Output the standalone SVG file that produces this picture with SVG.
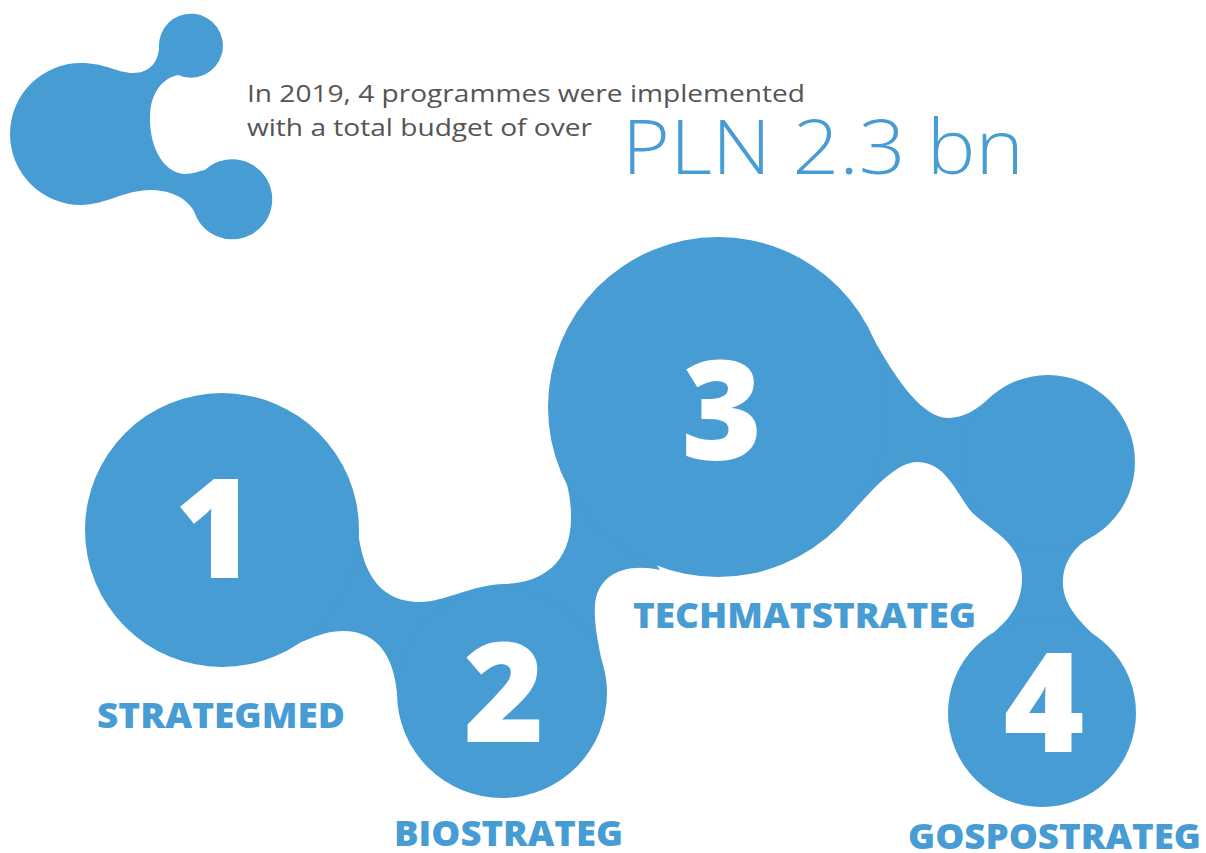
<svg xmlns="http://www.w3.org/2000/svg" width="1206" height="853" viewBox="0 0 1206 853">
<style>
.b{fill:#479CD4}
.hdr{font-family:"Open Sans","Liberation Sans",sans-serif;font-size:24px;fill:#555555}
.big{font-family:"Open Sans","Lato","Liberation Sans",sans-serif;font-weight:300;font-size:76px;fill:#479CD4}
.lbl{font-family:"Open Sans","Lato","Liberation Sans",sans-serif;font-weight:800;font-size:36px;fill:#479CD4}
.num{font-family:"Open Sans","Lato","Liberation Sans",sans-serif;font-weight:800;font-size:138px;fill:#ffffff;text-anchor:middle}
</style>
<rect width="1206" height="853" fill="#ffffff"/>
<g id="logo">
<path class="b" d="M10,134 A71,71 0 0 1 81,63 C105,63 118,73 133,73 C150,73 158,62 159,48 A32,32 0 1 1 178,75 C163,78 151,92 150,115 C149,142 160,172 185,174 C193,174 199,171 205,170 A40,40 0 1 1 194,211 C185,196 168,190 150,190 C125,190 105,205 81,205 A71,71 0 0 1 10,134 Z"/>
</g>
<g id="header">
<text class="hdr" x="247" y="102" textLength="558" lengthAdjust="spacingAndGlyphs">In 2019, 4 programmes were implemented</text>
<text class="hdr" x="247" y="136" textLength="345" lengthAdjust="spacingAndGlyphs">with a total budget of over</text>
<text class="big" x="622" y="174" textLength="402" lengthAdjust="spacingAndGlyphs">PLN 2.3 bn</text>
</g>
<g id="connectors">
<path class="b" d="M357,520 C360,565 375,602 420,602 C445,602 470,585 505,584 C540,583 572,565 571,515 C571,475 550,445 549,405 L660,570 C625,562 597,575 595,605 C593,630 603,660 607,693 L397,693 C394,660 380,631 343,631 C310,631 290,655 222,667 Z"/>
<path class="b" d="M862,318 C880,350 915,420 950,418 C965,417 975,410 985,402 L1089,538 C1070,550 1062,568 1063,585 C1064,605 1080,622 1093,634 L993,633 C1008,620 1022,605 1022,578 C1022,540 985,528 970,510 C955,490 945,463 918,462 C895,461 868,495 845,520 Z"/>
</g>
<g id="node-1">
<circle class="b" cx="222" cy="530" r="137"/>
<text class="num" x="215" y="578">1</text>
<text class="lbl" x="97" y="728" textLength="248" lengthAdjust="spacingAndGlyphs">STRATEGMED</text>
</g>
<g id="node-2">
<circle class="b" cx="502" cy="693" r="105"/>
<text class="num" x="504" y="742">2</text>
<text class="lbl" x="394" y="846" textLength="229" lengthAdjust="spacingAndGlyphs">BIOSTRATEG</text>
</g>
<g id="node-3">
<circle class="b" cx="718" cy="407" r="170"/>
<text class="num" x="722" y="460">3</text>
<text class="lbl" x="633" y="628" textLength="343" lengthAdjust="spacingAndGlyphs">TECHMATSTRATEG</text>
</g>
<g id="node-r">
<circle class="b" cx="1048" cy="462" r="87"/>
</g>
<g id="node-4">
<circle class="b" cx="1042" cy="713" r="94"/>
<text class="num" x="1044" y="752">4</text>
<text class="lbl" x="908" y="849" textLength="293" lengthAdjust="spacingAndGlyphs">GOSPOSTRATEG</text>
</g>
</svg>
